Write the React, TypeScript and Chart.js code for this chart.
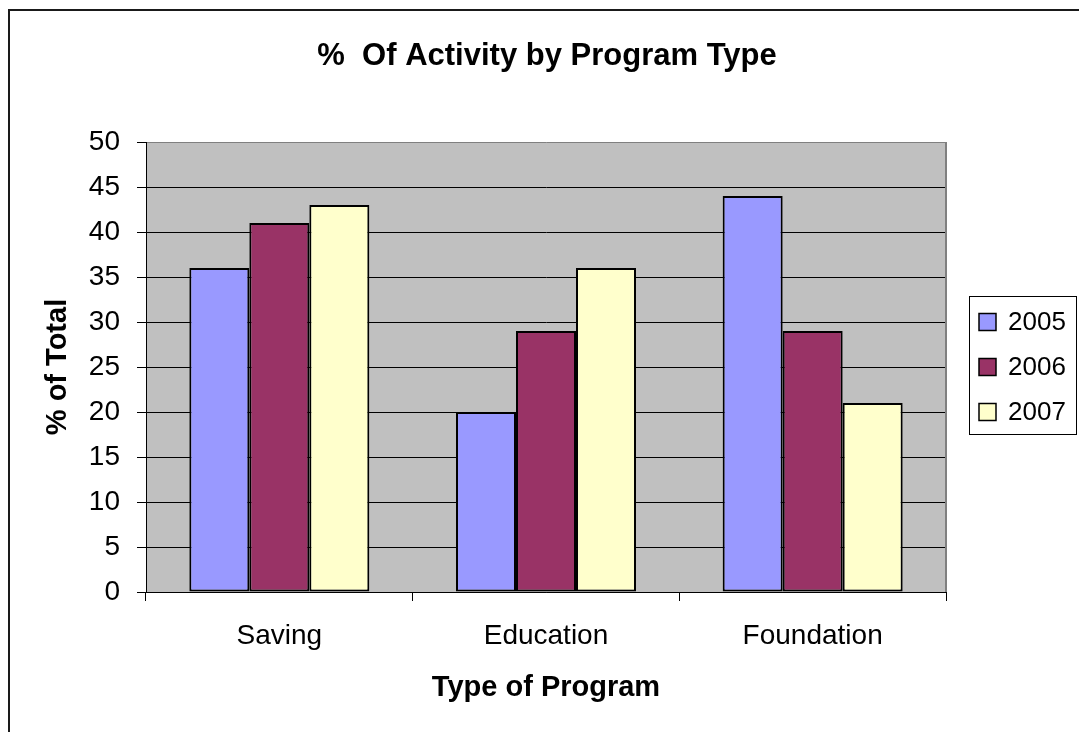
import { useEffect, useRef } from "react";
import { Chart, registerables } from "chart.js";

Chart.register(...registerables);

const categories = ["Saving", "Education", "Foundation"];
const seriesLabels = ["2005", "2006", "2007"];
const values2005 = [36, 20, 44];
const values2006 = [41, 29, 29];
const values2007 = [43, 36, 21];
const seriesColors = ["#9999FF", "#993366", "#FFFFCC"];
const yMin = 0;
const yMax = 50;
const yStep = 5;
const chartTitle = "%  Of Activity by Program Type";
const xTitle = "Type of Program";
const yTitle = "% of Total";

const FONT = "'Liberation Sans', Arial, Helvetica, sans-serif";
const W = 1079;
const H = 732;

const plotBgPlugin = {
  id: "plotBg",
  beforeDraw(chart: any) {
    const { ctx, chartArea } = chart;
    ctx.save();
    ctx.fillStyle = "#C0C0C0";
    ctx.fillRect(chartArea.left, chartArea.top, chartArea.right - chartArea.left, chartArea.bottom - chartArea.top);
    ctx.restore();
  },
  afterDatasetsDraw(chart: any) {
    const { ctx, chartArea } = chart;
    ctx.save();
    ctx.strokeStyle = "#808080";
    ctx.lineWidth = 2;
    ctx.beginPath();
    ctx.moveTo(chartArea.right, chartArea.top);
    ctx.lineTo(chartArea.right, chartArea.bottom);
    ctx.stroke();
    ctx.restore();
  },
};

const titleLegendPlugin = {
  id: "titleLegend",
  afterDraw(chart: any) {
    const { ctx } = chart;
    ctx.save();
    // outer frame (top and left edges visible)
    ctx.fillStyle = "#1a1a1a";
    ctx.fillRect(8, 9, W - 8, 2);
    ctx.fillRect(8, 9, 2, H - 9);
    // title
    ctx.fillStyle = "#000";
    ctx.font = `bold 31px ${FONT}`;
    ctx.textAlign = "center";
    ctx.textBaseline = "middle";
    ctx.fillText(chartTitle, 547, 56);

    // legend box
    ctx.strokeStyle = "#000";
    ctx.lineWidth = 1;
    ctx.strokeRect(969.5, 296.5, 107, 138);
    ctx.font = `26px ${FONT}`;
    ctx.textAlign = "left";
    chart.data.datasets.forEach((ds: any, i: number) => {
      const cy = 322 + i * 45;
      ctx.fillStyle = ds.backgroundColor;
      ctx.fillRect(979, cy - 8.5, 17, 17);
      ctx.lineWidth = 1.5;
      ctx.strokeStyle = "#000";
      ctx.strokeRect(979, cy - 8.5, 17, 17);
      ctx.fillStyle = "#000";
      ctx.fillText(ds.label, 1008, cy + 1);
    });
    ctx.restore();
  },
};

export default function App() {
  const canvasRef = useRef<HTMLCanvasElement | null>(null);

  useEffect(() => {
    document.documentElement.style.overflow = "hidden";
    const canvas = canvasRef.current;
    if (!canvas) return;
    const seriesValues = [values2005, values2006, values2007];
    const chart = new Chart(canvas, {
      type: "bar",
      data: {
        labels: categories,
        datasets: seriesLabels.map((label, i) => ({
          label,
          data: seriesValues[i],
          backgroundColor: seriesColors[i],
          borderColor: "#000",
          borderWidth: 2,
          borderSkipped: false,
          categoryPercentage: 0.675,
          barPercentage: 1,
        })),
      },
      options: {
        responsive: false,
        animation: false,
        events: [],
        layout: { padding: { left: 0, top: 142, right: 133, bottom: 0 } },
        plugins: {
          legend: { display: false },
          title: { display: false },
          tooltip: { enabled: false },
        },
        scales: {
          x: {
            grid: {
              offset: true,
              drawOnChartArea: false,
              drawTicks: true,
              tickLength: 9,
              color: "#000",
            },
            border: { color: "#000", width: 1 },
            ticks: { font: { family: FONT, size: 28 }, color: "#000", padding: 18 },
            title: {
              display: true,
              text: xTitle,
              color: "#000",
              font: { family: FONT, size: 29, weight: "bold" },
              padding: { top: 0, bottom: 26.6 },
            },
            afterFit: (s: any) => {
              s.height = 140;
            },
          },
          y: {
            min: yMin,
            max: yMax,
            ticks: { stepSize: yStep, font: { family: FONT, size: 28 }, color: "#000", padding: 17 },
            grid: {
              color: (c: any) => (c.tick && c.tick.value === yMax ? "#808080" : "#000"),
              tickColor: "#000",
              tickLength: 9,
              lineWidth: 1,
            },
            border: { color: "#000", width: 1 },
            title: {
              display: true,
              text: yTitle,
              color: "#000",
              font: { family: FONT, size: 29, weight: "bold" },
              padding: { top: 40.2, bottom: 0 },
            },
            afterFit: (s: any) => {
              s.width = 146;
            },
          },
        },
      } as any,
      plugins: [plotBgPlugin, titleLegendPlugin],
    });
    return () => chart.destroy();
  }, []);

  return (
    <div style={{ position: "fixed", left: 0, top: 0, width: W, height: H }}>
      <canvas
        ref={canvasRef}
        width={W}
        height={H}
        style={{ display: "block", width: W, height: H }}
      />
    </div>
  );
}
